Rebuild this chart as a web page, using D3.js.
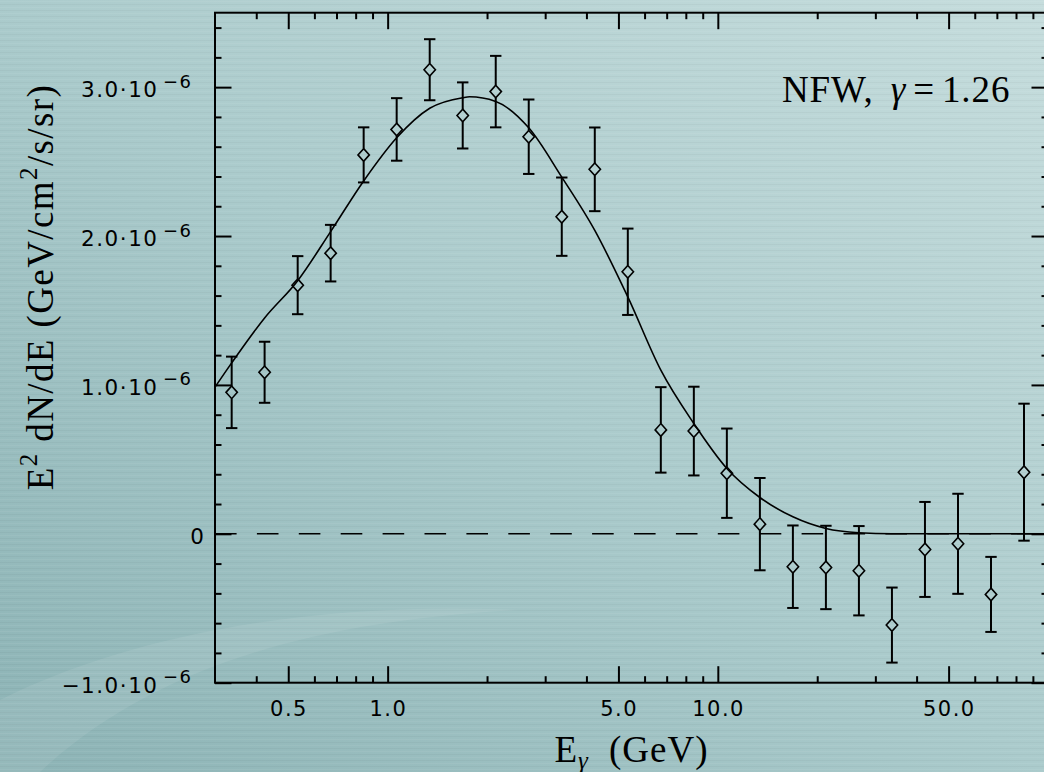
<!DOCTYPE html>
<html><head><meta charset="utf-8">
<script src="https://cdn.jsdelivr.net/npm/d3@7"></script>
<style>html,body{margin:0;padding:0;overflow:hidden;background:#a8c9ca}</style>
</head><body><svg id="c" width="1044" height="772"></svg>
<script>
// ---- data ----
const energies = [0.337,0.424,0.534,0.672,0.846,1.065,1.341,1.688,2.125,2.675,3.368,4.24,5.338,6.72,8.46,10.65,13.41,16.88,21.25,26.75,33.68,42.4,53.38,67.2,84.6];
const fluxValues = [0.95e-6,1.085e-6,1.67e-6,1.885e-6,2.545e-6,2.716e-6,3.117e-6,2.81e-6,2.97e-6,2.667e-6,2.13e-6,2.448e-6,1.76e-6,0.698e-6,0.69e-6,0.407e-6,0.065e-6,-0.221e-6,-0.226e-6,-0.248e-6,-0.613e-6,-0.105e-6,-0.067e-6,-0.407e-6,0.414e-6];
const fluxErrors = [0.24e-6,0.205e-6,0.195e-6,0.19e-6,0.185e-6,0.21e-6,0.205e-6,0.222e-6,0.24e-6,0.25e-6,0.263e-6,0.281e-6,0.29e-6,0.287e-6,0.298e-6,0.30e-6,0.31e-6,0.277e-6,0.28e-6,0.30e-6,0.252e-6,0.319e-6,0.336e-6,0.252e-6,0.46e-6];
const modelEnergies = [0.3,0.337,0.424,0.534,0.672,0.846,1.065,1.341,1.688,1.77,2.125,2.675,3.368,4.24,5.338,6.72,8.46,10.65,13.41,16.88,21.25,26.75,33.68,50,100];
const modelValues = [0.985e-6,1.148e-6,1.45e-6,1.70e-6,2.03e-6,2.37e-6,2.66e-6,2.858e-6,2.929e-6,2.935e-6,2.904e-6,2.727e-6,2.396e-6,2.038e-6,1.591e-6,1.099e-6,0.741e-6,0.439e-6,0.244e-6,0.114e-6,0.036e-6,0.007e-6,0,0,0];
const xMajorTicks = [0.5,1,5,10,50];
const xMinorTicks = [0.4,0.6,0.7,0.8,0.9,2,3,4,6,7,8,9,20,30,40,60,70,80,90];
const xTickLabels = ["0.5","1.0","5.0","10.0","50.0"];
const yMajorTicks = [-1e-6,0,1e-6,2e-6,3e-6];
const yMinorTicks = [-0.8e-6,-0.6e-6,-0.4e-6,-0.2e-6,0.2e-6,0.4e-6,0.6e-6,0.8e-6,1.2e-6,1.4e-6,1.6e-6,1.8e-6,2.2e-6,2.4e-6,2.6e-6,2.8e-6,3.2e-6,3.4e-6];
const yTickMantissa = ["\u22121.0\u00b710","0","1.0\u00b710","2.0\u00b710","3.0\u00b710"];
const yTickExponent = ["\u22126","","\u22126","\u22126","\u22126"];

// ---- layout ----
const W = 1044, H = 772;
const L = 215, R = 1048, T = 12.7, B = 682.7;
const svg = d3.select("#c");
const defs = svg.append("defs");
const bg = defs.append("linearGradient").attr("id","bg").attr("x1","1").attr("y1","0").attr("x2","0").attr("y2","1");
bg.append("stop").attr("offset","0").attr("stop-color","#c6dddd");
bg.append("stop").attr("offset","0.5").attr("stop-color","#abcbcc");
bg.append("stop").attr("offset","1").attr("stop-color","#8cb3b5");
const pat = defs.append("pattern").attr("id","streak").attr("width",40).attr("height",6).attr("patternUnits","userSpaceOnUse");
pat.append("rect").attr("y",1).attr("width",40).attr("height",1).attr("fill","#ffffff").attr("opacity",0.05);
pat.append("rect").attr("y",4).attr("width",40).attr("height",1).attr("fill","#000000").attr("opacity",0.03);
svg.append("rect").attr("width",W).attr("height",H).attr("fill","url(#bg)");
svg.append("rect").attr("width",W).attr("height",H).attr("fill","url(#streak)");
// faint swoosh lower-left
svg.append("path").attr("d","M0,700 C120,640 300,600 520,610 C330,620 160,660 40,772 L0,772Z").attr("fill","#ffffff").attr("opacity",0.08);

const x = d3.scaleLog().domain([0.3,100]).range([L,R]);
const y = d3.scaleLinear().domain([-1e-6,3.5e-6]).range([B,T]);

const ink = "#000";
const g = svg.append("g");

// zero dashed line
g.append("line").attr("x1",L).attr("x2",R).attr("y1",y(0)).attr("y2",y(0))
  .attr("stroke",ink).attr("stroke-width",1.6).attr("stroke-dasharray","21.6 20.3");

// model curve
const line = d3.line().x((d,i)=>x(modelEnergies[i])).y((d,i)=>y(modelValues[i])).curve(d3.curveMonotoneX);
g.append("path").attr("d",line(modelValues)).attr("fill","none").attr("stroke",ink).attr("stroke-width",1.6);

// error bars + diamonds
const hw = 5.7, hh = 6.3;
energies.forEach((e,i)=>{
  const cx = x(e), cy = y(fluxValues[i]);
  const yt = y(fluxValues[i]+fluxErrors[i]), yb = y(fluxValues[i]-fluxErrors[i]);
  const eg = g.append("g").attr("stroke",ink).attr("stroke-width",2).attr("fill","none");
  eg.append("line").attr("x1",cx).attr("x2",cx).attr("y1",yt).attr("y2",cy-hh);
  eg.append("line").attr("x1",cx).attr("x2",cx).attr("y1",cy+hh).attr("y2",yb);
  eg.append("line").attr("x1",cx-hw).attr("x2",cx+hw).attr("y1",yt).attr("y2",yt);
  eg.append("line").attr("x1",cx-hw).attr("x2",cx+hw).attr("y1",yb).attr("y2",yb);
  eg.append("path").attr("transform",`translate(${cx},${cy})`)
    .attr("d",`M0,${-hh}L${hw},0L0,${hh}L${-hw},0Z`).attr("stroke-width",1.6);
});

// axes (inward ticks on all four sides)
function styleAxis(sel){
  sel.select(".domain").remove();
  sel.selectAll("line").attr("stroke",ink).attr("stroke-width",2);
  sel.selectAll("text").remove();
}
const MAJ = 16.5, MIN = 6.5;
[[d3.axisBottom, `translate(0,${B})`],[d3.axisTop, `translate(0,${T})`]].forEach(([ax,tr])=>{
  svg.append("g").attr("transform",tr).call(ax(x).tickValues(xMajorTicks).tickSize(-MAJ).tickSizeOuter(0).tickFormat("")).call(styleAxis);
  svg.append("g").attr("transform",tr).call(ax(x).tickValues(xMinorTicks).tickSize(-MIN).tickSizeOuter(0).tickFormat("")).call(styleAxis);
});
[[d3.axisLeft, `translate(${L},0)`],[d3.axisRight, `translate(${R},0)`]].forEach(([ax,tr])=>{
  svg.append("g").attr("transform",tr).call(ax(y).tickValues(yMajorTicks).tickSize(-MAJ).tickSizeOuter(0).tickFormat("")).call(styleAxis);
  svg.append("g").attr("transform",tr).call(ax(y).tickValues(yMinorTicks).tickSize(-MIN).tickSizeOuter(0).tickFormat("")).call(styleAxis);
});
// frame
svg.append("rect").attr("x",L).attr("y",T).attr("width",R-L).attr("height",B-T)
  .attr("fill","none").attr("stroke",ink).attr("stroke-width",2);

// tick labels
const sans = "'DejaVu Sans', sans-serif";
const LS = 1.5;
xMajorTicks.forEach((v,i)=>{
  svg.append("text").attr("x",x(v)+LS/2).attr("y",716).attr("text-anchor","middle")
    .attr("font-family",sans).attr("font-size",21).attr("letter-spacing",LS).attr("fill",ink).text(xTickLabels[i]);
});
yMajorTicks.forEach((v,i)=>{
  const ty = y(v);
  if(yTickExponent[i]===""){
    svg.append("text").attr("x",204+LS).attr("y",ty+10).attr("text-anchor","end")
      .attr("font-family",sans).attr("font-size",21.5).attr("letter-spacing",LS).attr("fill",ink).text(yTickMantissa[i]);
  } else {
    svg.append("text").attr("x",157+LS).attr("y",ty+10).attr("text-anchor","end")
      .attr("font-family",sans).attr("font-size",21.5).attr("letter-spacing",LS).attr("fill",ink).text(yTickMantissa[i]);
    svg.append("text").attr("x",163).attr("y",ty+0.5).attr("text-anchor","start")
      .attr("font-family",sans).attr("font-size",18).attr("letter-spacing",LS).attr("fill",ink).text(yTickExponent[i]);
  }
});

// axis titles
const serif = "'Liberation Serif', serif";
const xt = svg.append("text").attr("x",(L+R)/2).attr("y",761.5).attr("text-anchor","middle")
  .attr("font-family",serif).attr("font-size",37).attr("letter-spacing",1).attr("fill",ink);
xt.append("tspan").text("E");
xt.append("tspan").attr("font-size",25).attr("font-style","italic").attr("dy",7).text("\u03b3");
xt.append("tspan").attr("dy",-7).attr("dx",20).text("(GeV)");

const yt = svg.append("text").attr("transform","translate(53,287) rotate(-90)").attr("text-anchor","middle")
  .attr("font-family",serif).attr("font-size",37).attr("letter-spacing",1.4).attr("fill",ink);
yt.append("tspan").text("E");
yt.append("tspan").attr("font-size",25).attr("dy",-16).text("2");
yt.append("tspan").attr("dy",16).text(" dN/dE (GeV/cm");
yt.append("tspan").attr("font-size",25).attr("dy",-16).text("2");
yt.append("tspan").attr("dy",16).text("/s/sr)");

// annotation
const an = svg.append("text").attr("x",782).attr("y",101.5).attr("font-family",serif).attr("font-size",37)
  .attr("letter-spacing",0.9).attr("fill",ink);
an.append("tspan").text("NFW,");
an.append("tspan").attr("dx",17).attr("font-style","italic").text("\u03b3");
an.append("tspan").attr("dx",7).text("=");
an.append("tspan").attr("dx",7).text("1.26");
</script></body></html>
